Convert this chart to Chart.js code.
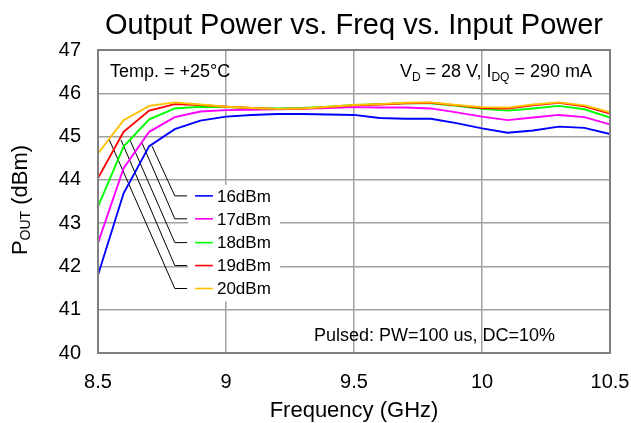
<!DOCTYPE html>
<html>
<head>
<meta charset="utf-8">
<script src="https://cdn.jsdelivr.net/npm/chart.js@4.4.0/dist/chart.umd.min.js"></script>
<style>
html,body{margin:0;padding:0;background:#fff;}
#wrap{width:631px;height:423px;}
</style>
</head>
<body>
<div id="wrap"><canvas id="c" width="631" height="423"></canvas></div>
<script>
const freqs = [8.5,8.6,8.7,8.8,8.9,9.0,9.1,9.2,9.3,9.4,9.5,9.6,9.7,9.8,9.9,10.0,10.1,10.2,10.3,10.4,10.5];
const seriesNames = ['16dBm','17dBm','18dBm','19dBm','20dBm'];
const p16 = [41.80,43.69,44.78,45.17,45.37,45.46,45.50,45.52,45.52,45.51,45.50,45.43,45.41,45.41,45.31,45.19,45.09,45.14,45.23,45.20,45.06];
const p17 = [42.54,44.27,45.11,45.45,45.58,45.61,45.62,45.63,45.64,45.66,45.68,45.67,45.67,45.65,45.56,45.46,45.38,45.44,45.50,45.45,45.28];
const p18 = [43.38,44.77,45.40,45.65,45.69,45.68,45.66,45.65,45.66,45.69,45.73,45.75,45.77,45.77,45.71,45.64,45.60,45.65,45.71,45.63,45.44];
const p19 = [44.04,45.11,45.60,45.75,45.73,45.69,45.66,45.64,45.65,45.68,45.72,45.74,45.77,45.78,45.72,45.66,45.65,45.72,45.78,45.70,45.53];
const p20 = [44.61,45.38,45.71,45.79,45.74,45.69,45.66,45.64,45.65,45.69,45.73,45.75,45.78,45.79,45.73,45.68,45.67,45.74,45.79,45.72,45.56];
const xTicks = [8.5,9,9.5,10,10.5];
const yTicks = [40,41,42,43,44,45,46,47];
const colors = ['#0000ff','#ff00ff','#00ff00','#ff0000','#ffc000'];
// leader annotation anchors (data coords): start on curve, legend row level
const leaderStartX = [8.711,8.672,8.625,8.590,8.543];
const leaderStartY = [44.78,44.85,44.92,44.92,44.94];
const legendRowY = [43.63,43.10,42.55,42.02,41.49];
const leaderElbowX = 8.80, leaderEndX = 8.848;

const allSeries = [p16,p17,p18,p19,p20];
const datasets = allSeries.map((arr,i)=>({
  label: seriesNames[i],
  data: arr.map((v,j)=>({x:freqs[j],y:v})),
  borderColor: colors[i],
  backgroundColor: colors[i],
  borderWidth: 1.9,
  pointRadius: 0,
  tension: 0,
  order: 4-i
}));
leaderStartX.forEach((sx,i)=>{
  datasets.push({
    label: 'leader'+i,
    data: [{x:sx,y:leaderStartY[i]},{x:leaderElbowX,y:legendRowY[i]},{x:leaderEndX,y:legendRowY[i]}],
    borderColor:'#000', borderWidth:1, pointRadius:0, tension:0, order:10
  });
});

function drawSub(ctx, parts, x, y, align){
  const big='18px "Liberation Sans", Arial, sans-serif', small='12px "Liberation Sans", Arial, sans-serif';
  let w=0;
  parts.forEach(p=>{ctx.font=p[1]?small:big; w+=ctx.measureText(p[0]).width;});
  let cx = align==='right'? x-w : x;
  ctx.textAlign='left'; ctx.textBaseline='alphabetic';
  parts.forEach(p=>{ctx.font=p[1]?small:big; ctx.fillText(p[0],cx,y+(p[1]?4:0)); cx+=ctx.measureText(p[0]).width;});
}

const decor = {
  id:'decor',
  beforeDatasetsDraw(chart){
    const {ctx, scales:{x,y}} = chart;
    ctx.save();
    const lx = x.getPixelForValue(leaderEndX)+1;
    ctx.fillStyle='#fff';
    ctx.fillRect(lx, y.getPixelForValue(legendRowY[0])-11, 92, y.getPixelForValue(legendRowY[4])-y.getPixelForValue(legendRowY[0])+24);
    ctx.restore();
  },
  afterDatasetsDraw(chart){
    const {ctx, chartArea:a, scales:{x,y}} = chart;
    ctx.save();
    ctx.strokeStyle='#808080'; ctx.lineWidth=2;
    ctx.strokeRect(a.left,a.top,a.right-a.left,a.bottom-a.top);
    const x0 = x.getPixelForValue(8.879), x1 = x.getPixelForValue(8.949);
    seriesNames.forEach((n,i)=>{
      const py = y.getPixelForValue(legendRowY[i]);
      ctx.strokeStyle=colors[i]; ctx.lineWidth=1.6;
      ctx.beginPath(); ctx.moveTo(x0,py); ctx.lineTo(x1,py); ctx.stroke();
      ctx.fillStyle='#000'; ctx.font='17px "Liberation Sans", Arial, sans-serif';
      ctx.textAlign='left'; ctx.textBaseline='middle';
      ctx.fillText(n, x1+4, py+1);
    });
    ctx.fillStyle='#000';
    drawSub(ctx,[['Temp. = +25°C',false]], a.left+12, a.top+27, 'left');
    drawSub(ctx,[['V',false],['D',true],[' = 28 V, I',false],['DQ',true],[' = 290 mA',false]], a.right-18, a.top+27, 'right');
    drawSub(ctx,[['Pulsed: PW=100 us, DC=10%',false]], a.left+216, a.bottom-12, 'left');
    ctx.font='29px "Liberation Sans", Arial, sans-serif';
    ctx.textAlign='center'; ctx.textBaseline='alphabetic';
    ctx.fillText('Output Power vs. Freq vs. Input Power', (a.left+a.right)/2, 34);
    ctx.font='22px "Liberation Sans", Arial, sans-serif';
    ctx.fillText('Frequency (GHz)', (a.left+a.right)/2, 417);
    ctx.translate(27, 200);
    ctx.rotate(-Math.PI/2);
    const f1='22px "Liberation Sans", Arial, sans-serif', f2='14px "Liberation Sans", Arial, sans-serif';
    ctx.font=f1; const wP=ctx.measureText('P').width, wR=ctx.measureText(' (dBm)').width;
    ctx.font=f2; const wS=ctx.measureText('OUT').width;
    let cx = -(wP+wS+wR)/2;
    ctx.textAlign='left';
    ctx.font=f1; ctx.fillText('P',cx,0); cx+=wP;
    ctx.font=f2; ctx.fillText('OUT',cx,3); cx+=wS;
    ctx.font=f1; ctx.fillText(' (dBm)',cx,0);
    ctx.restore();
  }
};

new Chart(document.getElementById('c'), {
  type:'line',
  data:{datasets},
  options:{
    responsive:false, animation:false,
    layout:{padding:{top:50,right:21,left:0,bottom:0}},
    plugins:{legend:{display:false},tooltip:{enabled:false},title:{display:false}},
    scales:{
      x:{type:'linear',min:8.5,max:10.5,
        afterFit(s){s.height=70; s.paddingLeft=0; s.paddingRight=0;},
        afterBuildTicks(s){s.ticks=xTicks.map(v=>({value:v}));},
        ticks:{color:'#000',padding:17,font:{family:'"Liberation Sans", Arial, sans-serif',size:20},maxRotation:0,
          callback:v=>String(v)},
        grid:{color:'#a0a0a0',lineWidth:1.5,drawTicks:false},
        border:{display:false}
      },
      y:{type:'linear',min:40,max:47,
        afterFit(s){s.width=98; s.paddingTop=0; s.paddingBottom=0;},
        afterBuildTicks(s){s.ticks=yTicks.map(v=>({value:v}));},
        ticks:{color:'#000',padding:17,font:{family:'"Liberation Sans", Arial, sans-serif',size:20},
          callback:v=>String(v)},
        grid:{color:'#a0a0a0',lineWidth:1.5,drawTicks:false},
        border:{display:false}
      }
    }
  },
  plugins:[decor]
});
</script>
</body>
</html>
